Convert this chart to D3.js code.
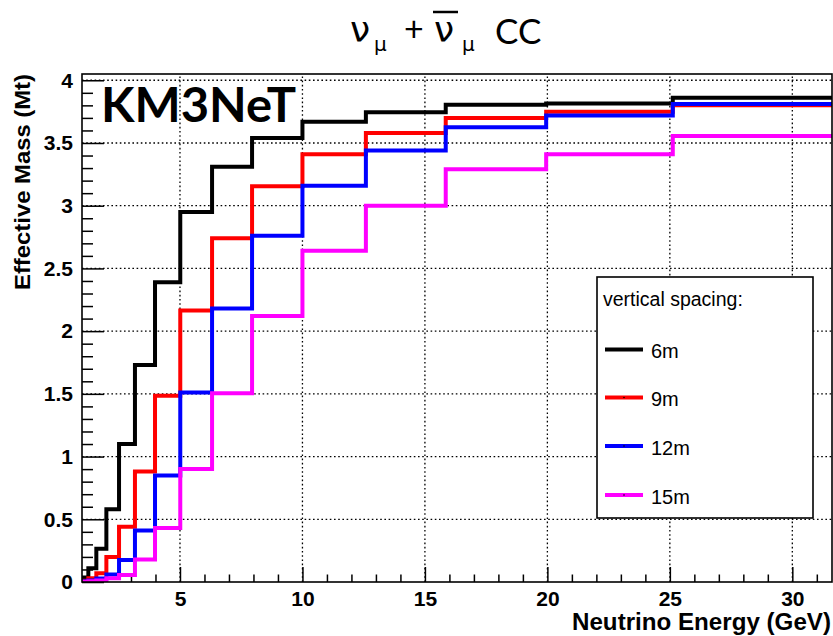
<!DOCTYPE html>
<html>
<head>
<meta charset="utf-8">
<script src="https://cdn.jsdelivr.net/npm/d3@7"></script>
<style>
  html, body { margin: 0; padding: 0; background: #fff; }
  svg { display: block; }
</style>
</head>
<body>
<svg id="chart" width="833" height="636"></svg>
<script>
// Energy bin edges (GeV), 10 bins per decade from 1 to 31.6 GeV
const binEdges = [1, 1.259, 1.585, 1.995, 2.512, 3.162, 3.981, 5.012, 6.310, 7.943,
                  10, 12.59, 15.85, 19.95, 25.12, 31.62];

// Effective mass (Mt) per bin for each vertical spacing
const mass6m  = [0.035, 0.11, 0.265, 0.58, 1.10, 1.73, 2.39, 2.95, 3.31, 3.54, 3.67, 3.745, 3.805, 3.815, 3.86];
const mass9m  = [0.01, 0.03, 0.07, 0.20, 0.44, 0.88, 1.485, 2.165, 2.74, 3.155, 3.41, 3.58, 3.70, 3.75, 3.80];
const mass12m = [0.005, 0.012, 0.028, 0.06, 0.175, 0.41, 0.85, 1.51, 2.18, 2.76, 3.16, 3.44, 3.625, 3.72, 3.81];
const mass15m = [0.002, 0.005, 0.012, 0.03, 0.056, 0.18, 0.43, 0.90, 1.505, 2.12, 2.64, 3.00, 3.29, 3.41, 3.555];

const seriesNames  = ["6m", "9m", "12m", "15m"];
const seriesColors = ["#000000", "#ff0000", "#0000ff", "#ff00ff"];
const seriesValues = [mass6m, mass9m, mass12m, mass15m];

const xMajorTicks = [5, 10, 15, 20, 25, 30];
const yMajorTicks = [0, 0.5, 1, 1.5, 2, 2.5, 3, 3.5, 4];
const yTickLabels = ["0", "0.5", "1", "1.5", "2", "2.5", "3", "3.5", "4"];

const svg = d3.select("#chart");
const L = 82, R = 832, T = 74, B = 582;

const x = d3.scaleLinear().domain([1, 31.62]).range([L, R]);
const y = d3.scaleLinear().domain([0, 4.05]).range([B, T]);

const axisFont = "'Liberation Sans', Arial, Helvetica, sans-serif";

// Plot background
svg.append("rect").attr("x", L).attr("y", T).attr("width", R - L).attr("height", B - T)
  .attr("fill", "#fff");

// Dotted grid
const grid = svg.append("g").attr("stroke", "#000").attr("stroke-width", 1.3)
  .attr("stroke-dasharray", "1.6 2.6");
grid.selectAll("line.gx").data(xMajorTicks).join("line")
  .attr("x1", d => x(d)).attr("x2", d => x(d)).attr("y1", B).attr("y2", T);
grid.selectAll("line.gy").data(yMajorTicks.filter(d => d > 0)).join("line")
  .attr("y1", d => y(d)).attr("y2", d => y(d)).attr("x1", L).attr("x2", R);

// Axes with inward ticks
const xMinor = d3.range(2, 32).filter(d => d % 5 !== 0);
svg.append("g").attr("transform", `translate(0,${B})`)
  .call(d3.axisBottom(x).tickValues(xMinor).tickSizeInner(-7.5).tickSizeOuter(0).tickFormat(""))
  .call(g => g.select(".domain").remove())
  .call(g => g.selectAll("line").attr("stroke-width", 1.5));
svg.append("g").attr("transform", `translate(0,${B})`)
  .call(d3.axisBottom(x).tickValues(xMajorTicks).tickSizeInner(-15).tickSizeOuter(0).tickPadding(9))
  .call(g => g.select(".domain").remove())
  .call(g => g.selectAll("line").attr("stroke-width", 1.5))
  .call(g => g.selectAll("text").attr("font-family", axisFont).attr("font-weight", "bold")
    .attr("font-size", 21).attr("fill", "#000"));

const yMinor = d3.range(1, 41).map(d => d / 10).filter(d => Math.round(d * 10) % 5 !== 0);
svg.append("g").attr("transform", `translate(${L},0)`)
  .call(d3.axisLeft(y).tickValues(yMinor).tickSizeInner(-11).tickSizeOuter(0).tickFormat(""))
  .call(g => g.select(".domain").remove())
  .call(g => g.selectAll("line").attr("stroke-width", 1.5));
svg.append("g").attr("transform", `translate(${L},0)`)
  .call(d3.axisLeft(y).tickValues(yMajorTicks).tickSizeInner(-22).tickSizeOuter(0).tickPadding(9)
    .tickFormat((d, i) => yTickLabels[i]))
  .call(g => g.select(".domain").remove())
  .call(g => g.selectAll("line").attr("stroke-width", 1.5))
  .call(g => g.selectAll("text").attr("font-family", axisFont).attr("font-weight", "bold")
    .attr("font-size", 21).attr("fill", "#000"));

// Histogram outlines (open at the upper end, the frame closes them)
svg.append("defs").append("clipPath").attr("id", "plotClip")
  .append("rect").attr("x", L).attr("y", T).attr("width", R - L).attr("height", B - T);

const line = d3.line().x(d => x(d[0])).y(d => y(d[1]));
function stepPoints(vals) {
  const pts = [[binEdges[0], 0]];
  vals.forEach((v, i) => { pts.push([binEdges[i], v]); pts.push([binEdges[i + 1], v]); });
  return pts;
}
const hist = svg.append("g").attr("clip-path", "url(#plotClip)");
seriesValues.forEach((vals, i) => {
  hist.append("path").attr("d", line(stepPoints(vals)))
    .attr("fill", "none").attr("stroke", seriesColors[i]).attr("stroke-width", 4)
    .attr("stroke-linejoin", "miter").attr("stroke-linecap", "butt");
});

// Frame
svg.append("rect").attr("x", L).attr("y", T).attr("width", R - L).attr("height", B - T)
  .attr("fill", "none").attr("stroke", "#000").attr("stroke-width", 1.6);

// Experiment label
svg.append("text").attr("x", 101).attr("y", 122)
  .attr("font-family", "Lato, 'Open Sans', sans-serif").attr("font-weight", "bold")
  .attr("font-size", 47).attr("textLength", 195).attr("lengthAdjust", "spacingAndGlyphs")
  .text("KM3NeT");

// Axis titles
svg.append("text").attr("transform", "translate(30,74) rotate(-90)")
  .attr("text-anchor", "end").attr("font-family", axisFont).attr("font-weight", "bold")
  .attr("font-size", 22).attr("textLength", 216).attr("lengthAdjust", "spacingAndGlyphs")
  .text("Effective Mass (Mt)");
svg.append("text").attr("x", 831).attr("y", 630)
  .attr("text-anchor", "end").attr("font-family", axisFont).attr("font-weight", "bold")
  .attr("font-size", 23).attr("textLength", 259).attr("lengthAdjust", "spacingAndGlyphs")
  .text("Neutrino Energy (GeV)");

// Title: nu_mu + anti-nu_mu CC
const greek = "'DejaVu Sans', 'Noto Sans', sans-serif";
const latin = "Lato, 'Open Sans', sans-serif";
const titleParts = [
  { t: "ν",  x: 350, y: 42, f: greek, s: 36 },
  { t: "μ",  x: 374, y: 51, f: greek, s: 20 },
  { t: "+",  x: 404, y: 41, f: latin, s: 34 },
  { t: "ν",  x: 434, y: 42, f: greek, s: 36 },
  { t: "μ",  x: 462, y: 51, f: greek, s: 20 },
  { t: "CC", x: 495, y: 44, f: latin, s: 35 }
];
svg.append("g").selectAll("text").data(titleParts).join("text")
  .attr("x", d => d.x).attr("y", d => d.y)
  .attr("font-family", d => d.f).attr("font-size", d => d.s).attr("fill", "#000")
  .text(d => d.t);
svg.append("line").attr("x1", 433).attr("x2", 458).attr("y1", 12).attr("y2", 12)
  .attr("stroke", "#000").attr("stroke-width", 2.5);

// Legend
const lg = svg.append("g");
lg.append("rect").attr("x", 597).attr("y", 277).attr("width", 216).attr("height", 241)
  .attr("fill", "#fff").attr("stroke", "#000").attr("stroke-width", 1.6);
lg.append("text").attr("x", 603).attr("y", 306).attr("font-family", axisFont)
  .attr("font-size", 19.5).text("vertical spacing:");
const rowY = [349.5, 397.5, 446, 495];
seriesNames.forEach((name, i) => {
  lg.append("line").attr("x1", 605).attr("x2", 643).attr("y1", rowY[i]).attr("y2", rowY[i])
    .attr("stroke", seriesColors[i]).attr("stroke-width", 4);
  lg.append("circle").attr("cx", 624).attr("cy", rowY[i]).attr("r", 0.8).attr("fill", "#000");
  lg.append("text").attr("x", 651).attr("y", rowY[i] + 8.5).attr("font-family", axisFont)
    .attr("font-size", 20).text(name);
});
</script>
</body>
</html>
